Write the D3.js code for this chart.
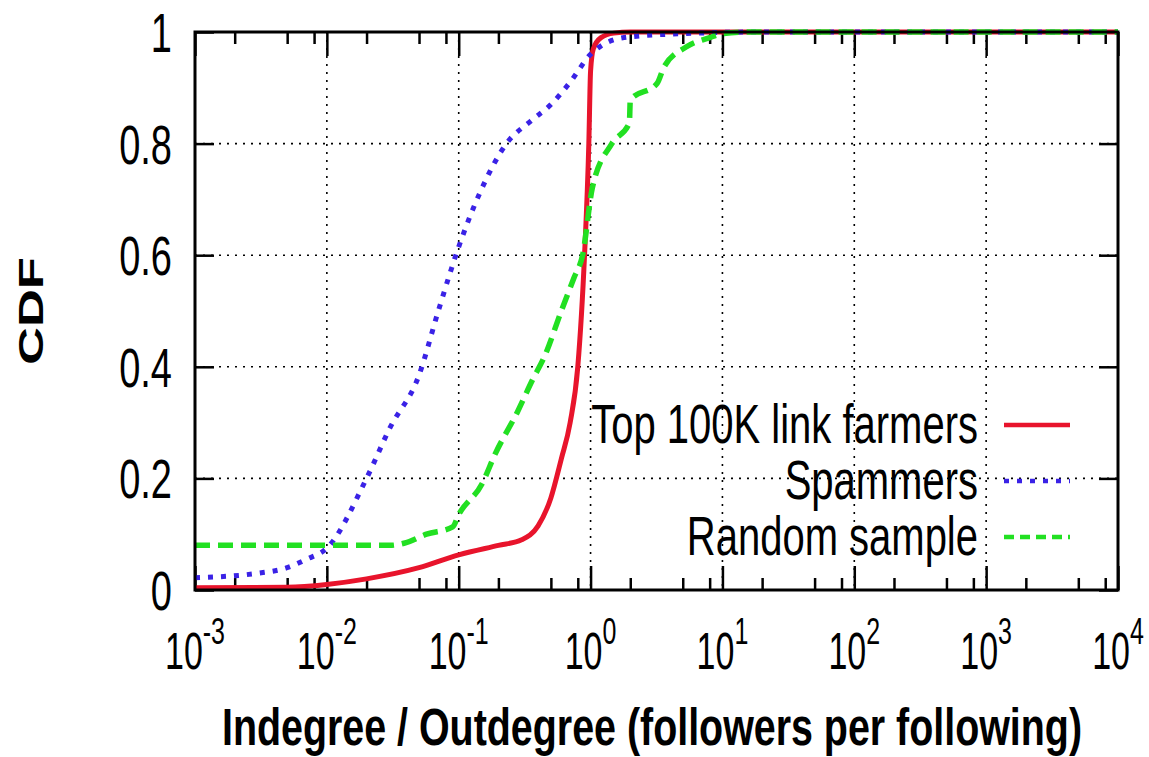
<!DOCTYPE html>
<meta charset="utf-8">
<html>
<head>
<style>
body { margin: 0; background: #fff; }
text { font-family: "Liberation Sans", Arial, sans-serif; fill: #000; }
.frame { fill: none; stroke: #000; stroke-width: 3; }
.axis path { display: none; }
.axis line { stroke: #000; stroke-width: 2.5; }
.grid line { stroke: #000; stroke-width: 1.6; stroke-dasharray: 2,6; }
</style>
<script src="https://d3js.org/d3.v7.min.js"></script>
</head>
<body>
<svg width="1149" height="757"></svg>
<script>
// series: [ratio, cdf]
var linkFarmers = [[0.001,0.004],[0.005,0.005],[0.01,0.01],[0.02,0.02],[0.05,0.04],[0.1,0.063],
  [0.2,0.08],[0.3,0.09],[0.4,0.115],[0.5,0.165],[0.6,0.235],[0.7,0.3],[0.8,0.4],[0.9,0.6],
  [0.97,0.8],[1.0,0.93],[1.05,0.97],[1.2,0.99],[1.5,0.998],[2,1],[10000,1]];
var spammers = [[0.001,0.022],[0.003,0.03],[0.005,0.04],[0.007,0.055],[0.01,0.075],[0.02,0.2],
  [0.03,0.29],[0.05,0.385],[0.07,0.5],[0.1,0.615],[0.15,0.72],[0.23,0.8],[0.35,0.84],[0.5,0.87],
  [0.7,0.91],[1.0,0.96],[1.2,0.975],[1.8,0.99],[5,0.997],[20,1],[10000,1]];
var randomSample = [[0.001,0.08],[0.03,0.08],[0.04,0.085],[0.057,0.1],[0.09,0.113],[0.1,0.135],
  [0.15,0.19],[0.19,0.245],[0.28,0.32],[0.36,0.375],[0.45,0.42],[0.6,0.5],[0.75,0.56],[0.87,0.6],
  [1.03,0.72],[1.45,0.8],[1.97,0.837],[2.0,0.878],[3.2,0.908],[3.6,0.937],[5.3,0.973],[8,0.99],
  [10,0.997],[15,1],[10000,1]];

var seriesNames = ["Top 100K link farmers", "Spammers", "Random sample"];
var xExponents = [-3, -2, -1, 0, 1, 2, 3, 4];
var yTicks = [0, 0.2, 0.4, 0.6, 0.8, 1];
var yTickLabels = ["0", "0.2", "0.4", "0.6", "0.8", "1"];
var minorMults = [2, 5, 8];

var svg = d3.select("svg");
var pLeft = 195, pRight = 1118, pTop = 32, pBottom = 590;
var VS = 1.5; // the picture is stretched vertically

var x = d3.scaleLog().domain([1e-3, 1e4]).range([pLeft, pRight]);
var y = d3.scaleLinear().domain([0, 1]).range([pBottom, pTop]);

var majors = xExponents.map(function(e) { return Math.pow(10, e); });
var minors = [];
xExponents.slice(0, -1).forEach(function(e) {
  minorMults.forEach(function(m) { minors.push(m * Math.pow(10, e)); });
});

// grid
svg.append("g").attr("class", "grid")
  .selectAll("line").data(majors.slice(1, -1)).enter().append("line")
    .attr("x1", x).attr("x2", x).attr("y1", pTop).attr("y2", pBottom);
svg.append("g").attr("class", "grid")
  .selectAll("line").data(yTicks.slice(1, -1)).enter().append("line")
    .attr("x1", pLeft).attr("x2", pRight).attr("y1", y).attr("y2", y);

// ticks (inward)
function tickAxis(axis, tx, ty) {
  svg.append("g").attr("class", "axis")
    .attr("transform", "translate(" + tx + "," + ty + ")")
    .call(axis.tickFormat(""))
    .selectAll("text").remove();
}
tickAxis(d3.axisBottom(x).tickValues(majors).tickSize(-24), 0, pBottom);
tickAxis(d3.axisBottom(x).tickValues(minors).tickSize(-12), 0, pBottom);
tickAxis(d3.axisTop(x).tickValues(majors).tickSize(-24), 0, pTop);
tickAxis(d3.axisTop(x).tickValues(minors).tickSize(-12), 0, pTop);
tickAxis(d3.axisLeft(y).tickValues(yTicks).tickSize(-19), pLeft, 0);
tickAxis(d3.axisRight(y).tickValues(yTicks).tickSize(-19), pRight, 0);

// curves
var line = d3.line()
  .x(function(d) { return x(d[0]); })
  .y(function(d) { return y(d[1]); })
  .curve(d3.curveMonotoneX);

var styles = [
  { data: linkFarmers, color: "#e8142c", width: 5, dash: null, legendDash: null },
  { data: spammers, color: "#3a22e6", width: 5, dash: "5,8", legendDash: "5,8" },
  { data: randomSample, color: "#22e022", width: 5.5, dash: "15,8", legendDash: "10,6" }
];

styles.forEach(function(s) {
  svg.append("path")
    .datum(s.data)
    .attr("d", line)
    .attr("fill", "none")
    .attr("stroke", s.color)
    .attr("stroke-width", s.width)
    .attr("stroke-dasharray", s.dash);
});

// frame
svg.append("rect").attr("class", "frame")
  .attr("x", pLeft).attr("y", pTop).attr("width", pRight - pLeft).attr("height", pBottom - pTop);

// y labels
yTicks.forEach(function(v, i) {
  svg.append("text")
    .attr("transform", "translate(172," + (y(v) + 20) + ") scale(1,1.45)")
    .attr("text-anchor", "end")
    .style("font-size", "38px")
    .text(yTickLabels[i]);
});

// x labels 10^e
xExponents.forEach(function(e) {
  var t = svg.append("text")
    .attr("transform", "translate(" + x(Math.pow(10, e)) + ",669) scale(1," + VS + ")")
    .attr("text-anchor", "middle")
    .style("font-size", "34px");
  t.append("tspan").text("10");
  t.append("tspan").attr("dy", -17).style("font-size", "25px").text(e);
});

// axis titles
svg.append("text")
  .attr("transform", "translate(652,745) scale(1," + VS + ")")
  .attr("text-anchor", "middle")
  .attr("textLength", 860)
  .attr("lengthAdjust", "spacingAndGlyphs")
  .style("font-size", "34px").style("font-weight", "bold")
  .text("Indegree / Outdegree (followers per following)");

svg.append("text")
  .attr("transform", "translate(43,311) scale(1," + VS + ") rotate(-90)")
  .attr("text-anchor", "middle")
  .style("font-size", "35px").style("font-weight", "bold")
  .text("CDF");

// legend
styles.forEach(function(s, i) {
  var ly = 425 + i * 56;
  svg.append("text")
    .attr("transform", "translate(978," + (ly + 18) + ") scale(1,1.4)")
    .attr("text-anchor", "end")
    .style("font-size", "40px")
    .text(seriesNames[i]);
  svg.append("line")
    .attr("x1", 1004).attr("x2", 1070).attr("y1", ly).attr("y2", ly)
    .attr("stroke", s.color).attr("stroke-width", 4.5)
    .attr("stroke-dasharray", s.legendDash);
});
</script>
</body>
</html>
